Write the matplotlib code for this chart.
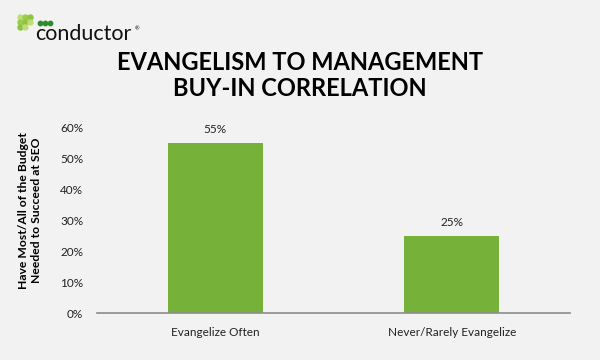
import matplotlib
matplotlib.use('Agg')
import matplotlib.pyplot as plt
from matplotlib.lines import Line2D
import numpy as np

categories = ['Evangelize Often', 'Never/Rarely Evangelize']
values = [0.55, 0.25]
yticks = [0, 0.1, 0.2, 0.3, 0.4, 0.5, 0.6]

bg = '#f2f2f2'
green = '#76b13a'

plt.rcParams['font.family'] = ['Lato', 'DejaVu Sans']

fig = plt.figure(figsize=(6, 3.6), dpi=100, facecolor=bg)
ax = fig.add_axes([0.1617, 0.1297, 0.7883, 0.5161], facecolor=bg)

x = np.arange(len(categories))
bars = ax.bar(x, values, width=0.4, color=green)
for bar, v in zip(bars, values):
    ax.text(bar.get_x() + bar.get_width() / 2, v + 0.025, f'{v:.0%}',
            ha='center', va='bottom', fontsize=8.5, color='#222222')

ax.set_xlim(-0.5, 1.5)
ax.set_ylim(0, 0.6)
ax.set_yticks(yticks)
ax.set_yticklabels([f'{t:.0%}' for t in yticks])
ax.set_xticks(x)
ax.set_xticklabels(categories)
ax.tick_params(length=0, labelsize=8.5, colors='#222222')
ax.tick_params(axis='y', pad=10)
ax.tick_params(axis='x', pad=10)
for s in ['top', 'right', 'left']:
    ax.spines[s].set_visible(False)
ax.spines['bottom'].set_color('#8c8c8c')
ax.spines['bottom'].set_linewidth(1.2)

fig.text(0.05, 0.415, 'Have Most/All of the Budget\nNeeded to Succeed at SEO',
         rotation=90, ha='center', va='center', fontsize=8.7,
         fontweight='bold', linespacing=1.25)

fig.text(0.5, 0.79, 'EVANGELISM TO MANAGEMENT\nBUY-IN CORRELATION',
         ha='center', va='center', fontsize=17, fontweight='bold',
         linespacing=1.12)

# logo
light = ['#c2dc7a', '#9ccb4a', '#8cc63f']
for i, yy in enumerate([17, 22, 27]):
    for j, xx in enumerate([20, 25, 30]):
        if i == 2 and j == 2:
            continue
        fig.add_artist(Line2D([xx / 600], [1 - yy / 360], marker='o',
                              markersize=3.6, color=light[(i + j) % 3],
                              linestyle='none', transform=fig.transFigure))
for xx in [40, 45, 50]:
    fig.add_artist(Line2D([xx / 600], [1 - 23 / 360], marker='o',
                          markersize=3.2, color='#2e8b2e',
                          linestyle='none', transform=fig.transFigure))
fig.text(35 / 600, 1 - 40 / 360, 'conductor', fontsize=15.5, va='baseline',
         ha='left', color='#111111')
fig.text(135 / 600, 1 - 29 / 360, '®', fontsize=4, va='center', ha='left',
         color='#111111')

fig.savefig('out.png', dpi=100, facecolor=bg)
